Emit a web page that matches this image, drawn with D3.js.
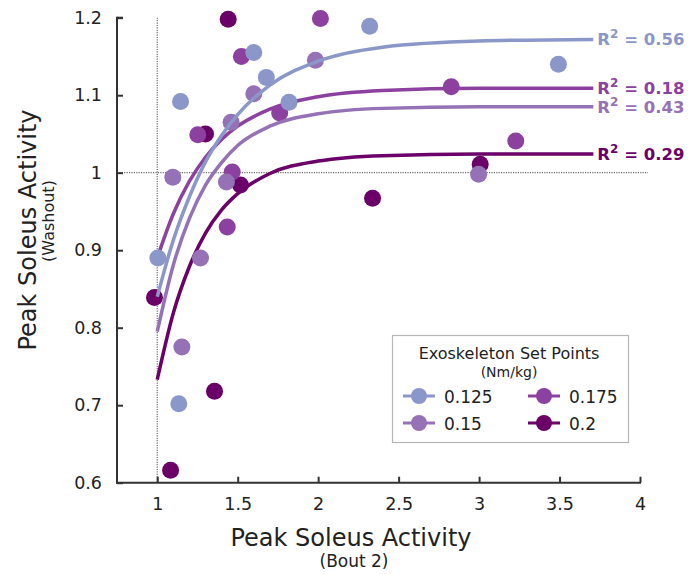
<!DOCTYPE html>
<html>
<head>
<meta charset="utf-8">
<script src="https://cdn.jsdelivr.net/npm/d3@7"></script>
<style>
  body { margin: 0; background: #fff; }
  svg { font-family: Verdana, "DejaVu Sans", sans-serif; }
</style>
</head>
<body>
<div id="chart"></div>
<script>
// set points, colours and fit quality
const setPoints = ["0.125", "0.15", "0.175", "0.2"];
const colors = ["#8b97c8", "#9571b5", "#8c409f", "#6a0068"];
const r2 = ["0.56", "0.43", "0.18", "0.29"];

// [bout 2, washout] per subject
const pts125 = [[1.004, 0.890], [1.145, 1.092], [1.600, 1.155], [1.678, 1.123],
  [1.819, 1.091], [2.320, 1.189], [3.493, 1.140], [1.134, 0.702]];
const pts150 = [[1.600, 1.102], [1.459, 1.065], [1.983, 1.145], [1.097, 0.994],
  [1.430, 0.988], [1.269, 0.890], [1.153, 0.775], [2.997, 0.998]];
const pts175 = [[1.523, 1.150], [2.014, 1.199], [1.761, 1.077], [1.252, 1.049],
  [1.466, 1.001], [1.435, 0.930], [2.827, 1.111], [3.228, 1.041]];
const pts200 = [[1.441, 1.198], [1.300, 1.050], [1.517, 0.984], [2.338, 0.967],
  [0.983, 0.839], [1.356, 0.718], [1.083, 0.616], [3.007, 1.011]];

// fitted curves, sampled along bout 2
const fitX = [1, 1.1, 1.2, 1.3, 1.4, 1.5, 1.7, 2, 2.4, 3, 3.71];
const fit125 = [0.840, 0.913, 0.969, 1.014, 1.048, 1.075, 1.113, 1.144, 1.162, 1.170, 1.172];
const fit150 = [0.795, 0.881, 0.941, 0.984, 1.013, 1.035, 1.060, 1.076, 1.083, 1.085, 1.085];
const fit175 = [0.890, 0.947, 0.989, 1.020, 1.043, 1.060, 1.082, 1.098, 1.106, 1.109, 1.109];
const fit200 = [0.733, 0.819, 0.879, 0.922, 0.952, 0.973, 0.999, 1.015, 1.022, 1.024, 1.024];

const xTicks = [1, 1.5, 2, 2.5, 3, 3.5, 4];
const yTicks = [0.6, 0.7, 0.8, 0.9, 1, 1.1, 1.2];

const series = [
  { name: setPoints[0], color: colors[0], r2: r2[0], pts: pts125, fit: fit125 },
  { name: setPoints[1], color: colors[1], r2: r2[1], pts: pts150, fit: fit150 },
  { name: setPoints[2], color: colors[2], r2: r2[2], pts: pts175, fit: fit175 },
  { name: setPoints[3], color: colors[3], r2: r2[3], pts: pts200, fit: fit200 },
];

const width = 690;
const height = 574;

const svg = d3.select("#chart").append("svg")
  .attr("width", width)
  .attr("height", height);

const x = d3.scaleLinear().domain([0.75, 4]).range([117, 640]);
const y = d3.scaleLinear().domain([0.6, 1.2]).range([482.7, 17.7]);

// reference lines at 1
const refLines = svg.append("g")
  .attr("stroke", "#6e6e6e")
  .attr("stroke-width", 1.2)
  .attr("stroke-dasharray", "1.2,1.2");
refLines.append("line")
  .attr("x1", x(1)).attr("x2", x(1))
  .attr("y1", y(1.2)).attr("y2", y(0.6));
refLines.append("line")
  .attr("x1", x(0.75)).attr("x2", x(4.05))
  .attr("y1", y(1)).attr("y2", y(1));

// axes, ticks pointing inward
const fmt = d => String(d);
const xAxis = svg.append("g")
  .attr("transform", `translate(0,${y(0.6)})`)
  .call(d3.axisBottom(x).tickValues(xTicks).tickFormat(fmt)
    .tickSizeInner(-6).tickSizeOuter(0).tickPadding(15));
const yAxis = svg.append("g")
  .attr("transform", `translate(${x(0.75)},0)`)
  .call(d3.axisLeft(y).tickValues(yTicks).tickFormat(fmt)
    .tickSizeInner(-6).tickSizeOuter(0).tickPadding(15));

[xAxis, yAxis].forEach(g => {
  g.select(".domain").attr("stroke", "#333").attr("stroke-width", 2);
  g.selectAll(".tick line").attr("stroke", "#333").attr("stroke-width", 2);
  g.selectAll(".tick text")
    .attr("fill", "#222")
    .style("font-size", "17.5px")
    .style("font-family", "Verdana, 'DejaVu Sans', sans-serif");
});
xAxis.select(".domain").attr("d", `M${x(0.75) - 1},0H${x(4) + 1}`);
yAxis.select(".domain").attr("d", `M0,${y(0.6) + 1}V${y(1.2) - 1}`);
yAxis.append("line")
  .attr("x1", 0).attr("x2", 6)
  .attr("y1", y(1.2)).attr("y2", y(1.2))
  .attr("stroke", "#333").attr("stroke-width", 2);

// axis titles
svg.append("text")
  .attr("x", 351).attr("y", 546)
  .attr("text-anchor", "middle")
  .attr("fill", "#222")
  .style("font-size", "24px")
  .text("Peak Soleus Activity");
svg.append("text")
  .attr("x", 354).attr("y", 567)
  .attr("text-anchor", "middle")
  .attr("fill", "#222")
  .style("font-size", "17px")
  .text("(Bout 2)");

svg.append("text")
  .attr("transform", "translate(36,230) rotate(-90)")
  .attr("text-anchor", "middle")
  .attr("fill", "#222")
  .style("font-size", "24px")
  .text("Peak Soleus Activity");
svg.append("text")
  .attr("transform", "translate(54,221) rotate(-90)")
  .attr("text-anchor", "middle")
  .attr("fill", "#222")
  .style("font-size", "16px")
  .text("(Washout)");

const line = d3.line()
  .x(d => x(d[0]))
  .y(d => y(d[1]))
  .curve(d3.curveMonotoneX);

// darkest set point first so the lighter ones sit on top
const plot = svg.append("g");
series.slice().reverse().forEach(s => {
  const g = plot.append("g");
  g.append("path")
    .datum(fitX.map((v, i) => [v, s.fit[i]]))
    .attr("d", line)
    .attr("fill", "none")
    .attr("stroke", s.color)
    .attr("stroke-width", 3.5)
    .attr("stroke-linecap", "butt");
  g.selectAll("circle")
    .data(s.pts)
    .join("circle")
    .attr("cx", d => x(d[0]))
    .attr("cy", d => y(d[1]))
    .attr("r", 8.5)
    .attr("fill", s.color);
});

// R² labels at the end of each curve
series.forEach(s => {
  const t = svg.append("text")
    .attr("x", x(fitX[fitX.length - 1]) + 4)
    .attr("y", y(s.fit[s.fit.length - 1]) + 6)
    .attr("fill", s.color)
    .style("font-size", "16.5px")
    .style("font-weight", "bold");
  t.append("tspan").text("R");
  t.append("tspan").attr("dy", -7).style("font-size", "12px").text("2");
  t.append("tspan").attr("dy", 7).text(` = ${s.r2}`);
});

// legend
const legend = svg.append("g").attr("transform", "translate(392,335)");
legend.append("rect")
  .attr("x", 0.5).attr("y", 0.5)
  .attr("width", 236).attr("height", 107)
  .attr("fill", "#fff")
  .attr("stroke", "#b5b5b5")
  .attr("stroke-width", 1.2);
legend.append("text")
  .attr("x", 117).attr("y", 24)
  .attr("text-anchor", "middle")
  .attr("fill", "#222")
  .style("font-size", "16px")
  .text("Exoskeleton Set Points");
legend.append("text")
  .attr("x", 117).attr("y", 42)
  .attr("text-anchor", "middle")
  .attr("fill", "#222")
  .style("font-size", "14px")
  .text("(Nm/kg)");

const legendPos = [[11, 61], [11, 88], [136, 61], [136, 88]];
series.forEach((s, i) => {
  const [lx, ly] = legendPos[i];
  const item = legend.append("g").attr("transform", `translate(${lx},${ly})`);
  item.append("line")
    .attr("x1", 0).attr("x2", 32)
    .attr("stroke", s.color)
    .attr("stroke-width", 3);
  item.append("circle")
    .attr("cx", 16).attr("r", 8)
    .attr("fill", s.color);
  item.append("text")
    .attr("x", 41).attr("y", 6.5)
    .attr("fill", "#222")
    .style("font-size", "17px")
    .text(s.name);
});
</script>
</body>
</html>
